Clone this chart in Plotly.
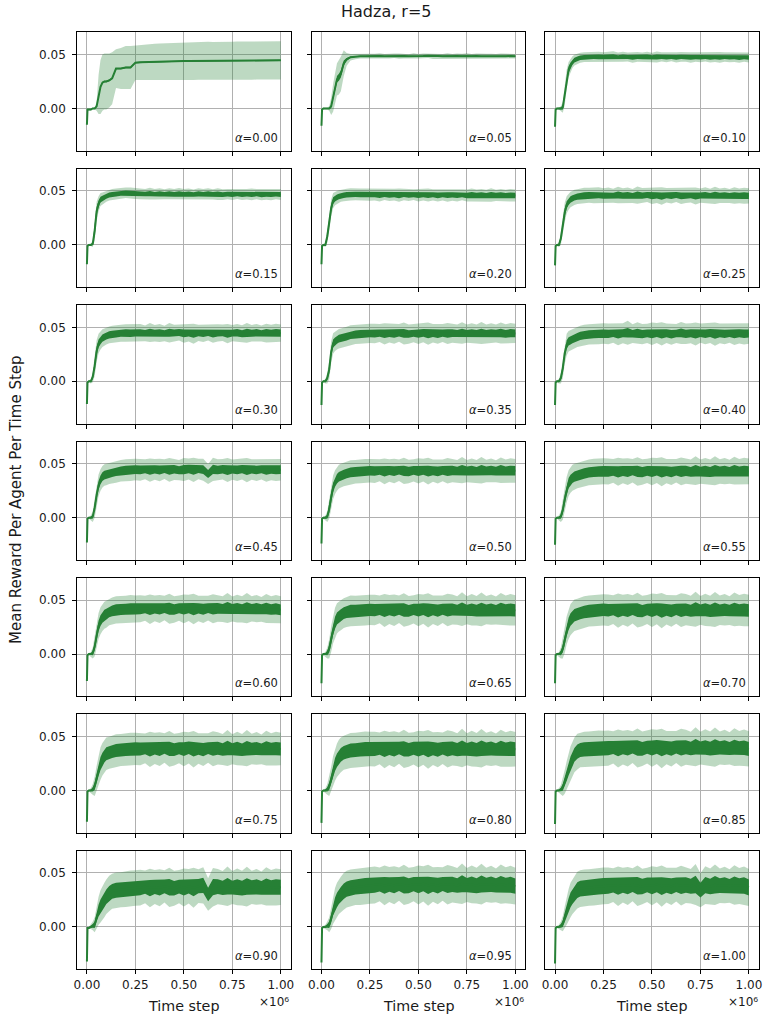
import plotly.graph_objects as go

# ---------------- data (time in units of 1e6 steps) ----------------
T = [0.000, 0.003, 0.010, 0.020, 0.030, 0.040, 0.050, 0.060, 0.070, 0.080, 0.090, 0.100,
     0.115, 0.130, 0.150, 0.175, 0.200, 0.225, 0.250,
     0.275, 0.300, 0.325, 0.350, 0.375, 0.400, 0.425, 0.450, 0.475, 0.500,
     0.525, 0.550, 0.575, 0.600, 0.625, 0.650, 0.675, 0.700, 0.725, 0.750,
     0.775, 0.800, 0.825, 0.850, 0.875, 0.900, 0.925, 0.950, 0.975, 1.000]

ALPHAS = ["0.00", "0.05", "0.10", "0.15", "0.20", "0.25", "0.30", "0.35", "0.40", "0.45", "0.50",
          "0.55", "0.60", "0.65", "0.70", "0.75", "0.80", "0.85", "0.90", "0.95", "1.00"]

MEAN_000 = [-0.015, -0.001, -0.001, -0.001, 0.000, 0.000, 0.002, 0.013, 0.020, 0.024, 0.025, 0.025, 0.026, 0.028, 0.037, 0.037, 0.038, 0.038, 0.0425,
            0.0428, 0.0430, 0.0432, 0.0433, 0.0434, 0.0435, 0.0436, 0.0437, 0.0438, 0.0439,
            0.0440, 0.0440, 0.0441, 0.0441, 0.0442, 0.0442, 0.0443, 0.0442, 0.0443, 0.0443,
            0.0444, 0.0443, 0.0444, 0.0444, 0.0445, 0.0444, 0.0445, 0.0445, 0.0446, 0.0446]
MEAN_005 = [-0.016, -0.001, 0.000, 0.000, 0.000, 0.000, 0.002, 0.010, 0.019, 0.027, 0.029, 0.032, 0.042, 0.0455, 0.0475, 0.0482, 0.0485, 0.0484, 0.0486,
            0.0485, 0.0487, 0.0484, 0.0486, 0.0488, 0.0485, 0.0486, 0.0484, 0.0487, 0.0485,
            0.0486, 0.0488, 0.0484, 0.0486, 0.0485, 0.0487, 0.0484, 0.0486, 0.0485, 0.0487,
            0.0483, 0.0486, 0.0485, 0.0484, 0.0486, 0.0483, 0.0485, 0.0484, 0.0486, 0.0484]
MEAN_010 = [-0.017, -0.001, 0.000, 0.000, 0.000, 0.001, 0.012, 0.027, 0.036, 0.040, 0.043, 0.0448, 0.046, 0.047, 0.0475, 0.0478, 0.0480, 0.0478, 0.0477,
            0.0478, 0.0480, 0.0475, 0.0479, 0.0477, 0.0474, 0.0479, 0.0476, 0.0478, 0.0473,
            0.0477, 0.0479, 0.0475, 0.0477, 0.0474, 0.0478, 0.0476, 0.0473, 0.0477, 0.0475,
            0.0478, 0.0474, 0.0476, 0.0473, 0.0477, 0.0474, 0.0475, 0.0472, 0.0476, 0.0473]
MEAN_015 = [-0.018, -0.001, 0.000, 0.000, 0.001, 0.013, 0.031, 0.038, 0.042, 0.043, 0.044, 0.045, 0.0462, 0.0468, 0.0472, 0.0478, 0.0483, 0.0479, 0.0475,
            0.0474, 0.0471, 0.0475, 0.0469, 0.0473, 0.0470, 0.0474, 0.0468, 0.0472, 0.0469,
            0.0471, 0.0467, 0.0472, 0.0469, 0.0473, 0.0468, 0.0470, 0.0466, 0.0471, 0.0468,
            0.0472, 0.0467, 0.0470, 0.0468, 0.0471, 0.0466, 0.0469, 0.0467, 0.0470, 0.0467]
MEAN_020 = [-0.018, -0.001, 0.000, 0.000, 0.008, 0.021, 0.034, 0.041, 0.043, 0.044, 0.0448, 0.0455, 0.046, 0.0465, 0.0468, 0.0467, 0.0466, 0.0467, 0.0465,
            0.0467, 0.0463, 0.0468, 0.0464, 0.0466, 0.0461, 0.0467, 0.0463, 0.0465, 0.0460,
            0.0466, 0.0462, 0.0464, 0.0459, 0.0465, 0.0461, 0.0463, 0.0460, 0.0464, 0.0458,
            0.0463, 0.0460, 0.0462, 0.0457, 0.0462, 0.0459, 0.0461, 0.0457, 0.0460, 0.0458]
MEAN_025 = [-0.019, -0.001, 0.000, 0.000, 0.006, 0.018, 0.030, 0.037, 0.040, 0.042, 0.043, 0.044, 0.0448, 0.0452, 0.0458, 0.0460, 0.0458, 0.0462, 0.0456,
            0.0460, 0.0455, 0.0462, 0.0456, 0.0459, 0.0453, 0.0461, 0.0457, 0.0463, 0.0455,
            0.0458, 0.0452, 0.0460, 0.0456, 0.0462, 0.0454, 0.0458, 0.0461, 0.0453, 0.0457,
            0.0460, 0.0452, 0.0458, 0.0455, 0.0459, 0.0453, 0.0457, 0.0454, 0.0456, 0.0454]
MEAN_030 = [-0.021, -0.001, 0.000, 0.000, 0.004, 0.014, 0.028, 0.035, 0.038, 0.040, 0.041, 0.042, 0.043, 0.0435, 0.044, 0.0445, 0.0448, 0.0446, 0.0449,
            0.0449, 0.0444, 0.0451, 0.0445, 0.0448, 0.0442, 0.0450, 0.0446, 0.0452, 0.0444,
            0.0447, 0.0441, 0.0449, 0.0445, 0.0451, 0.0443, 0.0448, 0.0450, 0.0442, 0.0447,
            0.0449, 0.0441, 0.0448, 0.0445, 0.0450, 0.0443, 0.0447, 0.0444, 0.0449, 0.0446]
MEAN_035 = [-0.022, -0.001, 0.000, 0.000, 0.003, 0.011, 0.027, 0.035, 0.037, 0.0385, 0.0395, 0.040, 0.0408, 0.0415, 0.0428, 0.0435, 0.044, 0.0442, 0.0444,
            0.0443, 0.0447, 0.0440, 0.0446, 0.0441, 0.0448, 0.0443, 0.0438, 0.0446, 0.0442,
            0.0449, 0.0441, 0.0445, 0.0439, 0.0447, 0.0443, 0.0446, 0.0440, 0.0448, 0.0442,
            0.0445, 0.0439, 0.0447, 0.0441, 0.0446, 0.0443, 0.0448, 0.0440, 0.0446, 0.0444]
MEAN_040 = [-0.022, -0.001, 0.000, 0.000, 0.003, 0.012, 0.026, 0.034, 0.037, 0.038, 0.039, 0.040, 0.041, 0.042, 0.0428, 0.0435, 0.0438, 0.0441, 0.0443,
            0.0440, 0.0446, 0.0438, 0.0445, 0.0450, 0.0441, 0.0446, 0.0437, 0.0444, 0.0440,
            0.0447, 0.0439, 0.0445, 0.0436, 0.0443, 0.0448, 0.0440, 0.0445, 0.0438, 0.0446,
            0.0441, 0.0447, 0.0437, 0.0444, 0.0440, 0.0446, 0.0439, 0.0445, 0.0441, 0.0443]
MEAN_045 = [-0.023, -0.001, 0.000, 0.000, 0.001, 0.009, 0.021, 0.030, 0.035, 0.038, 0.0395, 0.040, 0.041, 0.0418, 0.0426, 0.0435, 0.0440, 0.0443, 0.0446,
            0.0444, 0.0449, 0.0441, 0.0447, 0.0442, 0.0450, 0.0443, 0.0448, 0.0440, 0.0446,
            0.0451, 0.0443, 0.0452, 0.0445, 0.0405, 0.0447, 0.0442, 0.0449, 0.0441, 0.0446,
            0.0443, 0.0450, 0.0440, 0.0447, 0.0442, 0.0448, 0.0441, 0.0446, 0.0443, 0.0445]
MEAN_050 = [-0.024, -0.001, 0.000, 0.000, 0.001, 0.008, 0.019, 0.028, 0.033, 0.036, 0.038, 0.039, 0.040, 0.041, 0.042, 0.0425, 0.043, 0.0432, 0.0435,
            0.0433, 0.0439, 0.0430, 0.0437, 0.0432, 0.0440, 0.0434, 0.0428, 0.0438, 0.0433,
            0.0441, 0.0431, 0.0436, 0.0429, 0.0439, 0.0434, 0.0437, 0.0430, 0.0440, 0.0432,
            0.0436, 0.0428, 0.0439, 0.0433, 0.0437, 0.0431, 0.0440, 0.0432, 0.0436, 0.0434]
MEAN_055 = [-0.025, -0.001, 0.000, 0.000, 0.001, 0.007, 0.017, 0.026, 0.032, 0.035, 0.037, 0.038, 0.039, 0.040, 0.041, 0.042, 0.0425, 0.0428, 0.043,
            0.0428, 0.0434, 0.0425, 0.0433, 0.0427, 0.0436, 0.0429, 0.0423, 0.0434, 0.0428,
            0.0437, 0.0426, 0.0432, 0.0424, 0.0435, 0.0429, 0.0433, 0.0425, 0.0436, 0.0427,
            0.0431, 0.0423, 0.0435, 0.0428, 0.0432, 0.0426, 0.0436, 0.0427, 0.0431, 0.0429]
MEAN_060 = [-0.025, -0.001, 0.000, 0.000, 0.001, 0.007, 0.017, 0.026, 0.031, 0.034, 0.036, 0.037, 0.039, 0.040, 0.041, 0.0412, 0.0415, 0.042, 0.0418,
            0.0420, 0.0425, 0.0416, 0.0424, 0.0418, 0.0427, 0.0420, 0.0413, 0.0425, 0.0419,
            0.0428, 0.0417, 0.0423, 0.0415, 0.0426, 0.0420, 0.0424, 0.0416, 0.0427, 0.0418,
            0.0422, 0.0414, 0.0425, 0.0418, 0.0422, 0.0415, 0.0423, 0.0413, 0.0418, 0.0410]
MEAN_065 = [-0.027, -0.001, 0.000, 0.000, 0.001, 0.005, 0.014, 0.023, 0.029, 0.033, 0.035, 0.036, 0.038, 0.039, 0.040, 0.0402, 0.0405, 0.0408, 0.041,
            0.0408, 0.0414, 0.0404, 0.0413, 0.0406, 0.0416, 0.0409, 0.0401, 0.0414, 0.0407,
            0.0417, 0.0405, 0.0412, 0.0403, 0.0415, 0.0408, 0.0413, 0.0404, 0.0416, 0.0406,
            0.0411, 0.0402, 0.0414, 0.0407, 0.0412, 0.0404, 0.0415, 0.0406, 0.0410, 0.0405]
MEAN_070 = [-0.027, -0.001, 0.000, 0.000, 0.001, 0.005, 0.013, 0.022, 0.028, 0.032, 0.034, 0.036, 0.037, 0.038, 0.039, 0.040, 0.0403, 0.0407, 0.041,
            0.0406, 0.0412, 0.0403, 0.0411, 0.0405, 0.0415, 0.0407, 0.0399, 0.0413, 0.0406,
            0.0416, 0.0403, 0.0411, 0.0401, 0.0414, 0.0407, 0.0412, 0.0402, 0.0415, 0.0405,
            0.0410, 0.0400, 0.0413, 0.0406, 0.0411, 0.0403, 0.0414, 0.0405, 0.0409, 0.0404]
MEAN_075 = [-0.029, -0.001, 0.000, 0.000, 0.001, 0.004, 0.011, 0.019, 0.025, 0.029, 0.032, 0.034, 0.035, 0.036, 0.037, 0.0375, 0.038, 0.0383, 0.0386,
            0.0385, 0.0391, 0.0381, 0.0390, 0.0383, 0.0394, 0.0386, 0.0378, 0.0392, 0.0384,
            0.0395, 0.0382, 0.0389, 0.0379, 0.0393, 0.0386, 0.0391, 0.0380, 0.0394, 0.0383,
            0.0389, 0.0378, 0.0392, 0.0385, 0.0390, 0.0381, 0.0393, 0.0383, 0.0388, 0.0384]
MEAN_080 = [-0.030, -0.001, 0.000, 0.000, 0.001, 0.004, 0.010, 0.018, 0.024, 0.028, 0.031, 0.033, 0.035, 0.036, 0.037, 0.0375, 0.038, 0.0383, 0.0385,
            0.0384, 0.0390, 0.0380, 0.0389, 0.0382, 0.0393, 0.0385, 0.0377, 0.0391, 0.0383,
            0.0394, 0.0381, 0.0388, 0.0378, 0.0392, 0.0385, 0.0390, 0.0379, 0.0393, 0.0382,
            0.0388, 0.0377, 0.0391, 0.0384, 0.0389, 0.0380, 0.0392, 0.0382, 0.0387, 0.0383]
MEAN_085 = [-0.031, -0.001, 0.000, 0.000, 0.001, 0.003, 0.008, 0.014, 0.020, 0.025, 0.029, 0.033, 0.036, 0.0375, 0.038, 0.0385, 0.0388, 0.039, 0.039,
            0.0393, 0.0399, 0.0389, 0.0398, 0.0391, 0.0402, 0.0394, 0.0386, 0.0401, 0.0393,
            0.0404, 0.0390, 0.0398, 0.0388, 0.0403, 0.0395, 0.0400, 0.0389, 0.0405, 0.0393,
            0.0399, 0.0387, 0.0402, 0.0394, 0.0400, 0.0390, 0.0401, 0.0391, 0.0396, 0.0385]
MEAN_090 = [-0.032, -0.001, -0.001, 0.000, 0.001, 0.002, 0.009, 0.015, 0.019, 0.022, 0.025, 0.028, 0.031, 0.033, 0.034, 0.0345, 0.035, 0.0355, 0.036,
            0.0364, 0.0371, 0.0360, 0.0370, 0.0363, 0.0375, 0.0367, 0.0358, 0.0373, 0.0365,
            0.0377, 0.0362, 0.0378, 0.0385, 0.0300, 0.0368, 0.0373, 0.0361, 0.0376, 0.0364,
            0.0370, 0.0359, 0.0374, 0.0366, 0.0371, 0.0362, 0.0375, 0.0364, 0.0369, 0.0368]
MEAN_095 = [-0.033, -0.001, 0.000, 0.000, 0.001, 0.002, 0.008, 0.016, 0.021, 0.025, 0.028, 0.030, 0.033, 0.035, 0.036, 0.037, 0.0375, 0.038, 0.0385,
            0.0388, 0.0394, 0.0384, 0.0393, 0.0386, 0.0397, 0.0389, 0.0381, 0.0396, 0.0388,
            0.0399, 0.0385, 0.0393, 0.0383, 0.0398, 0.0390, 0.0395, 0.0384, 0.0400, 0.0388,
            0.0394, 0.0382, 0.0397, 0.0389, 0.0395, 0.0385, 0.0396, 0.0386, 0.0390, 0.0378]
MEAN_100 = [-0.034, -0.001, 0.000, 0.000, 0.001, 0.003, 0.009, 0.015, 0.020, 0.025, 0.028, 0.031, 0.034, 0.0355, 0.036, 0.0365, 0.037, 0.0375, 0.038,
            0.0381, 0.0387, 0.0377, 0.0386, 0.0379, 0.0390, 0.0382, 0.0374, 0.0389, 0.0381,
            0.0392, 0.0378, 0.0386, 0.0376, 0.0391, 0.0383, 0.0388, 0.0377, 0.0393, 0.0340,
            0.0387, 0.0375, 0.0390, 0.0382, 0.0388, 0.0378, 0.0389, 0.0379, 0.0383, 0.0365]

SD_000 = [0.000, 0.001, 0.001, 0.001, 0.001, 0.001, 0.004, 0.018, 0.025, 0.026, 0.026, 0.026, 0.025, 0.024, 0.018, 0.019, 0.020, 0.020, 0.0160,
          0.0163, 0.0165, 0.0167, 0.0168, 0.0169, 0.0170, 0.0171, 0.0172, 0.0173, 0.0174,
          0.0174, 0.0175, 0.0175, 0.0175, 0.0176, 0.0175, 0.0176, 0.0176, 0.0177, 0.0176,
          0.0176, 0.0177, 0.0176, 0.0177, 0.0177, 0.0176, 0.0177, 0.0177, 0.0176, 0.0177]
SD_005 = [0.000, 0.001, 0.001, 0.001, 0.001, 0.002, 0.008, 0.013, 0.014, 0.015, 0.016, 0.016, 0.012, 0.006, 0.003, 0.0025, 0.0022, 0.0022, 0.0021,
          0.0022, 0.0026, 0.0020, 0.0023, 0.0021, 0.0025, 0.0022, 0.0019, 0.0024, 0.0021,
          0.0023, 0.0020, 0.0025, 0.0022, 0.0021, 0.0024, 0.0020, 0.0023, 0.0022, 0.0026,
          0.0021, 0.0023, 0.0020, 0.0024, 0.0022, 0.0021, 0.0025, 0.0022, 0.0023, 0.0021]
SD_010 = [0.000, 0.001, 0.001, 0.001, 0.002, 0.005, 0.009, 0.009, 0.007, 0.006, 0.0055, 0.005, 0.0048, 0.0046, 0.0045, 0.0046, 0.0045, 0.0047, 0.0045,
          0.0046, 0.0050, 0.0043, 0.0047, 0.0041, 0.0049, 0.0045, 0.0042, 0.0048, 0.0044,
          0.0051, 0.0043, 0.0046, 0.0040, 0.0048, 0.0045, 0.0043, 0.0049, 0.0044, 0.0047,
          0.0042, 0.0048, 0.0045, 0.0050, 0.0043, 0.0046, 0.0044, 0.0049, 0.0043, 0.0046]
SD_015 = [0.000, 0.001, 0.001, 0.001, 0.003, 0.009, 0.009, 0.007, 0.006, 0.0055, 0.0052, 0.005, 0.005, 0.0049, 0.005, 0.0051, 0.0049, 0.0052, 0.005,
          0.0051, 0.0047, 0.0055, 0.0049, 0.0053, 0.0046, 0.0052, 0.0050, 0.0056, 0.0048,
          0.0051, 0.0046, 0.0054, 0.0049, 0.0052, 0.0047, 0.0055, 0.0050, 0.0048, 0.0053,
          0.0046, 0.0051, 0.0049, 0.0055, 0.0047, 0.0052, 0.0050, 0.0054, 0.0048, 0.0051]
SD_020 = [0.000, 0.001, 0.001, 0.002, 0.006, 0.008, 0.008, 0.007, 0.0062, 0.006, 0.0058, 0.0056, 0.0055, 0.0055, 0.0056, 0.0054, 0.0057, 0.0055, 0.0056,
          0.0056, 0.0061, 0.0052, 0.0058, 0.0054, 0.0062, 0.0053, 0.0057, 0.0050, 0.0059,
          0.0055, 0.0060, 0.0052, 0.0057, 0.0054, 0.0061, 0.0053, 0.0058, 0.0051, 0.0056,
          0.0060, 0.0053, 0.0057, 0.0055, 0.0062, 0.0052, 0.0058, 0.0054, 0.0059, 0.0055]
SD_025 = [0.000, 0.001, 0.001, 0.002, 0.006, 0.009, 0.009, 0.008, 0.0075, 0.0072, 0.007, 0.007, 0.0068, 0.007, 0.0072, 0.0069, 0.0071, 0.0073, 0.007,
          0.0071, 0.0065, 0.0077, 0.0068, 0.0073, 0.0064, 0.0079, 0.0070, 0.0066, 0.0075,
          0.0069, 0.0081, 0.0067, 0.0072, 0.0065, 0.0076, 0.0070, 0.0068, 0.0078, 0.0066,
          0.0073, 0.0069, 0.0080, 0.0067, 0.0071, 0.0065, 0.0076, 0.0069, 0.0074, 0.0070]
SD_030 = [0.000, 0.001, 0.001, 0.002, 0.005, 0.009, 0.010, 0.009, 0.0085, 0.0082, 0.008, 0.008, 0.0078, 0.008, 0.0082, 0.0079, 0.0081, 0.0083, 0.008,
          0.0081, 0.0074, 0.0088, 0.0077, 0.0083, 0.0072, 0.0090, 0.0079, 0.0075, 0.0086,
          0.0078, 0.0092, 0.0076, 0.0082, 0.0073, 0.0087, 0.0080, 0.0077, 0.0089, 0.0075,
          0.0083, 0.0078, 0.0091, 0.0076, 0.0081, 0.0074, 0.0087, 0.0079, 0.0084, 0.0080]
SD_035 = [0.000, 0.001, 0.001, 0.002, 0.005, 0.009, 0.010, 0.0095, 0.009, 0.009, 0.009, 0.009, 0.0088, 0.009, 0.0092, 0.0089, 0.0091, 0.0093, 0.009,
          0.0091, 0.0084, 0.0098, 0.0087, 0.0093, 0.0082, 0.0101, 0.0089, 0.0085, 0.0096,
          0.0088, 0.0103, 0.0086, 0.0092, 0.0083, 0.0097, 0.0090, 0.0087, 0.0100, 0.0085,
          0.0093, 0.0088, 0.0102, 0.0086, 0.0091, 0.0084, 0.0097, 0.0089, 0.0094, 0.0090]
SD_040 = [0.000, 0.001, 0.001, 0.002, 0.005, 0.009, 0.010, 0.010, 0.0095, 0.0095, 0.0095, 0.0095, 0.0093, 0.0095, 0.0097, 0.0094, 0.0096, 0.0098, 0.0095,
          0.0096, 0.0089, 0.0103, 0.0092, 0.0112, 0.0087, 0.0101, 0.0094, 0.0090, 0.0104,
          0.0093, 0.0108, 0.0091, 0.0097, 0.0088, 0.0102, 0.0095, 0.0092, 0.0106, 0.0090,
          0.0098, 0.0093, 0.0107, 0.0091, 0.0096, 0.0089, 0.0103, 0.0094, 0.0099, 0.0095]
SD_045 = [0.000, 0.001, 0.001, 0.002, 0.005, 0.009, 0.010, 0.010, 0.010, 0.010, 0.010, 0.010, 0.0098, 0.010, 0.0102, 0.0099, 0.0101, 0.0103, 0.010,
          0.0101, 0.0093, 0.0108, 0.0096, 0.0104, 0.0091, 0.0110, 0.0098, 0.0094, 0.0107,
          0.0097, 0.0113, 0.0095, 0.0102, 0.0092, 0.0108, 0.0099, 0.0096, 0.0111, 0.0094,
          0.0103, 0.0097, 0.0112, 0.0095, 0.0101, 0.0093, 0.0107, 0.0098, 0.0104, 0.0100]
SD_050 = [0.000, 0.001, 0.001, 0.002, 0.005, 0.009, 0.011, 0.011, 0.011, 0.011, 0.011, 0.011, 0.0108, 0.011, 0.0112, 0.0109, 0.0111, 0.0113, 0.011,
          0.0111, 0.0102, 0.0119, 0.0105, 0.0114, 0.0100, 0.0121, 0.0108, 0.0103, 0.0117,
          0.0106, 0.0124, 0.0104, 0.0112, 0.0101, 0.0118, 0.0109, 0.0105, 0.0122, 0.0103,
          0.0113, 0.0107, 0.0123, 0.0104, 0.0111, 0.0102, 0.0118, 0.0108, 0.0114, 0.0110]
SD_055 = [0.000, 0.001, 0.001, 0.002, 0.005, 0.009, 0.011, 0.012, 0.012, 0.012, 0.012, 0.012, 0.0118, 0.012, 0.0122, 0.0119, 0.0121, 0.0123, 0.012,
          0.0121, 0.0111, 0.0130, 0.0115, 0.0124, 0.0109, 0.0132, 0.0118, 0.0112, 0.0127,
          0.0116, 0.0135, 0.0113, 0.0122, 0.0110, 0.0129, 0.0119, 0.0114, 0.0133, 0.0112,
          0.0123, 0.0117, 0.0134, 0.0113, 0.0121, 0.0111, 0.0128, 0.0118, 0.0124, 0.0120]
SD_060 = [0.000, 0.001, 0.001, 0.002, 0.005, 0.009, 0.011, 0.012, 0.0125, 0.0125, 0.0125, 0.0125, 0.0123, 0.0125, 0.0127, 0.0124, 0.0126, 0.0128, 0.0125,
          0.0126, 0.0115, 0.0136, 0.0120, 0.0130, 0.0113, 0.0138, 0.0123, 0.0117, 0.0133,
          0.0121, 0.0141, 0.0118, 0.0127, 0.0114, 0.0135, 0.0124, 0.0119, 0.0139, 0.0116,
          0.0129, 0.0122, 0.0140, 0.0117, 0.0126, 0.0115, 0.0134, 0.0123, 0.0130, 0.0125]
SD_065 = [0.000, 0.001, 0.001, 0.002, 0.005, 0.009, 0.012, 0.013, 0.014, 0.014, 0.014, 0.014, 0.0138, 0.014, 0.0142, 0.0139, 0.0141, 0.0143, 0.014,
          0.0141, 0.0129, 0.0152, 0.0134, 0.0146, 0.0127, 0.0155, 0.0137, 0.0131, 0.0149,
          0.0135, 0.0158, 0.0132, 0.0143, 0.0128, 0.0151, 0.0139, 0.0133, 0.0156, 0.0130,
          0.0145, 0.0136, 0.0157, 0.0131, 0.0141, 0.0129, 0.0150, 0.0138, 0.0146, 0.0140]
SD_070 = [0.000, 0.001, 0.001, 0.002, 0.005, 0.009, 0.012, 0.013, 0.014, 0.0145, 0.0145, 0.0145, 0.0143, 0.0145, 0.0147, 0.0144, 0.0146, 0.0148, 0.0145,
          0.0146, 0.0133, 0.0158, 0.0139, 0.0151, 0.0131, 0.0161, 0.0142, 0.0135, 0.0155,
          0.0140, 0.0164, 0.0137, 0.0148, 0.0132, 0.0157, 0.0144, 0.0138, 0.0162, 0.0134,
          0.0150, 0.0141, 0.0163, 0.0136, 0.0146, 0.0133, 0.0156, 0.0143, 0.0151, 0.0145]
SD_075 = [0.000, 0.001, 0.001, 0.002, 0.005, 0.009, 0.012, 0.014, 0.015, 0.015, 0.015, 0.015, 0.0148, 0.015, 0.0152, 0.0149, 0.0151, 0.0153, 0.015,
          0.0151, 0.0138, 0.0163, 0.0144, 0.0156, 0.0136, 0.0166, 0.0147, 0.0140, 0.0160,
          0.0145, 0.0169, 0.0142, 0.0153, 0.0137, 0.0162, 0.0149, 0.0143, 0.0167, 0.0139,
          0.0155, 0.0146, 0.0168, 0.0141, 0.0151, 0.0138, 0.0161, 0.0148, 0.0156, 0.0150]
SD_080 = [0.000, 0.001, 0.001, 0.002, 0.005, 0.009, 0.012, 0.014, 0.015, 0.0155, 0.016, 0.016, 0.0158, 0.016, 0.0162, 0.0159, 0.0161, 0.0163, 0.016,
          0.0161, 0.0147, 0.0174, 0.0153, 0.0166, 0.0145, 0.0177, 0.0157, 0.0149, 0.0171,
          0.0155, 0.0180, 0.0151, 0.0163, 0.0146, 0.0173, 0.0159, 0.0152, 0.0178, 0.0148,
          0.0165, 0.0156, 0.0179, 0.0150, 0.0161, 0.0147, 0.0172, 0.0158, 0.0166, 0.0160]
SD_085 = [0.000, 0.001, 0.001, 0.002, 0.004, 0.008, 0.011, 0.013, 0.015, 0.016, 0.016, 0.016, 0.0165, 0.016, 0.0165, 0.0162, 0.0164, 0.0166, 0.0163,
          0.0164, 0.0150, 0.0177, 0.0156, 0.0169, 0.0148, 0.0180, 0.0160, 0.0152, 0.0174,
          0.0158, 0.0183, 0.0154, 0.0166, 0.0149, 0.0176, 0.0162, 0.0155, 0.0181, 0.0151,
          0.0168, 0.0159, 0.0182, 0.0153, 0.0164, 0.0150, 0.0175, 0.0161, 0.0169, 0.0163]
SD_090 = [0.000, 0.001, 0.001, 0.002, 0.004, 0.007, 0.010, 0.013, 0.015, 0.016, 0.016, 0.016, 0.0165, 0.0163, 0.0165, 0.0162, 0.0166, 0.0168, 0.0165,
          0.0166, 0.0152, 0.0179, 0.0158, 0.0171, 0.0150, 0.0182, 0.0162, 0.0154, 0.0176,
          0.0160, 0.0185, 0.0156, 0.0168, 0.0151, 0.0178, 0.0164, 0.0157, 0.0183, 0.0153,
          0.0170, 0.0161, 0.0184, 0.0155, 0.0166, 0.0152, 0.0177, 0.0163, 0.0171, 0.0165]
SD_095 = [0.000, 0.001, 0.001, 0.002, 0.004, 0.007, 0.010, 0.013, 0.015, 0.016, 0.016, 0.0165, 0.017, 0.017, 0.0172, 0.0168, 0.0171, 0.0173, 0.017,
          0.0171, 0.0156, 0.0184, 0.0162, 0.0176, 0.0154, 0.0187, 0.0166, 0.0158, 0.0181,
          0.0164, 0.0190, 0.0160, 0.0173, 0.0155, 0.0183, 0.0168, 0.0161, 0.0188, 0.0157,
          0.0175, 0.0165, 0.0189, 0.0159, 0.0171, 0.0156, 0.0182, 0.0167, 0.0176, 0.0170]
SD_100 = [0.000, 0.001, 0.001, 0.002, 0.004, 0.007, 0.010, 0.013, 0.015, 0.016, 0.016, 0.0165, 0.017, 0.017, 0.0172, 0.0168, 0.0171, 0.0173, 0.017,
          0.0170, 0.0157, 0.0183, 0.0161, 0.0177, 0.0153, 0.0188, 0.0165, 0.0159, 0.0180,
          0.0163, 0.0191, 0.0161, 0.0172, 0.0156, 0.0184, 0.0167, 0.0160, 0.0189, 0.0158,
          0.0174, 0.0166, 0.0188, 0.0160, 0.0170, 0.0155, 0.0183, 0.0166, 0.0177, 0.0171]

# fluctuation of the mean line itself, relative to the across-run spread
NOISE_RATIO = [0.03, 0.20, 0.45, 0.45, 0.45, 0.42, 0.42, 0.40, 0.40, 0.40, 0.40,
               0.40, 0.40, 0.40, 0.40, 0.40, 0.40, 0.40, 0.42, 0.42, 0.43]

MEANS = [MEAN_000, MEAN_005, MEAN_010, MEAN_015, MEAN_020, MEAN_025, MEAN_030, MEAN_035, MEAN_040, MEAN_045, MEAN_050,
         MEAN_055, MEAN_060, MEAN_065, MEAN_070, MEAN_075, MEAN_080, MEAN_085, MEAN_090, MEAN_095, MEAN_100]
SDS = [SD_000, SD_005, SD_010, SD_015, SD_020, SD_025, SD_030, SD_035, SD_040, SD_045, SD_050,
       SD_055, SD_060, SD_065, SD_070, SD_075, SD_080, SD_085, SD_090, SD_095, SD_100]

X_TICKS = [0.0, 0.25, 0.5, 0.75, 1.0]
X_TICK_TEXT = ["0.00", "0.25", "0.50", "0.75", "1.00"]
Y_TICKS = [0.0, 0.05]
Y_TICK_TEXT = ["0.00", "0.05"]

for i, arr in enumerate(MEANS + SDS):
    assert len(arr) == len(T), (i, len(arr), len(T))

# ---------------- layout geometry (pixels) ----------------
W, H = 773, 1020
COL_L = [74.0, 311.0, 547.0]
COL_W = 215.5
ROW_T0, ROW_STEP, ROW_H = 32.3, 136.4, 118.5

LINE = "rgb(38,128,53)"
BAND = "rgba(38,128,53,0.3)"
FONT = "DejaVu Sans"
TXT = "#1a1a1a"

fig = go.Figure()
layout = {}
annotations = []

for p in range(21):
    r, c = divmod(p, 3)
    k = p + 1
    xa = "x" if k == 1 else f"x{k}"
    ya = "y" if k == 1 else f"y{k}"
    m, s, nr = MEANS[p], SDS[p], NOISE_RATIO[p]
    up = [a + b for a, b in zip(m, s)]
    lo = [a - b for a, b in zip(m, s)]
    dup = [a + b * nr for a, b in zip(m, s)]
    dlo = [a - b * nr for a, b in zip(m, s)]
    fig.add_trace(go.Scatter(x=T + T[::-1], y=up + lo[::-1], fill="toself", fillcolor=BAND,
                             mode="lines", line=dict(width=0), xaxis=xa, yaxis=ya,
                             hoverinfo="skip", showlegend=False))
    fig.add_trace(go.Scatter(x=T + T[::-1], y=dup + dlo[::-1], fill="toself", fillcolor=LINE,
                             mode="lines", line=dict(width=0), xaxis=xa, yaxis=ya,
                             hoverinfo="skip", showlegend=False))
    fig.add_trace(go.Scatter(x=T, y=m, mode="lines", line=dict(color=LINE, width=2),
                             xaxis=xa, yaxis=ya, hoverinfo="skip", showlegend=False))

    x0 = COL_L[c]
    x1 = x0 + COL_W
    top = ROW_T0 + r * ROW_STEP
    bot = top + ROW_H
    common = dict(showline=True, linecolor="black", linewidth=1, mirror=True,
                  ticks="outside", ticklen=4, tickwidth=1, tickcolor="black",
                  showgrid=True, gridcolor="#b0b0b0", gridwidth=0.8, zeroline=False,
                  tickfont=dict(family=FONT, size=12, color=TXT), fixedrange=True)
    layout["xaxis" if k == 1 else f"xaxis{k}"] = dict(
        domain=[x0 / W, x1 / W], anchor=ya, range=[-0.05, 1.05],
        tickmode="array", tickvals=X_TICKS, ticktext=X_TICK_TEXT,
        showticklabels=(r == 6), **common)
    layout["yaxis" if k == 1 else f"yaxis{k}"] = dict(
        domain=[1 - bot / H, 1 - top / H], anchor=xa, range=[-0.0392, 0.0706],
        tickmode="array", tickvals=Y_TICKS, ticktext=Y_TICK_TEXT,
        showticklabels=(c == 0), ticklabelstandoff=4, **common)

    annotations.append(dict(text="<i>α</i>=" + ALPHAS[p], xref=f"{xa} domain", yref=f"{ya} domain",
                            x=0.95, y=0.035, xanchor="right", yanchor="bottom", showarrow=False,
                            font=dict(family=FONT, size=11.5, color=TXT)))
    if r == 6:
        annotations.append(dict(text="Time step", xref="paper", yref="paper",
                                x=(x0 + x1) / 2 / W, y=1 - 1005.5 / H, xanchor="center", yanchor="middle",
                                showarrow=False, font=dict(family=FONT, size=14.3, color=TXT)))
        annotations.append(dict(text="×10\u2076", xref="paper", yref="paper",
                                x=(x1 + 1) / W, y=1 - 1002 / H, xanchor="right", yanchor="middle",
                                showarrow=False, font=dict(family=FONT, size=12, color=TXT)))

annotations.append(dict(text="Hadza, r=5", xref="paper", yref="paper", x=386.5 / W, y=1 - 12 / H,
                        xanchor="center", yanchor="middle", showarrow=False,
                        font=dict(family=FONT, size=16, color=TXT)))
annotations.append(dict(text="Mean Reward Per Agent Per Time Step", xref="paper", yref="paper",
                        x=12 / W, y=1 - 500 / H, xanchor="center", yanchor="middle", textangle=-90,
                        showarrow=False, font=dict(family=FONT, size=15, color=TXT)))

fig.update_layout(width=W, height=H, margin=dict(l=0, r=0, t=0, b=0),
                  paper_bgcolor="white", plot_bgcolor="white",
                  annotations=annotations, showlegend=False, **layout)

fig.write_html("out.html")
